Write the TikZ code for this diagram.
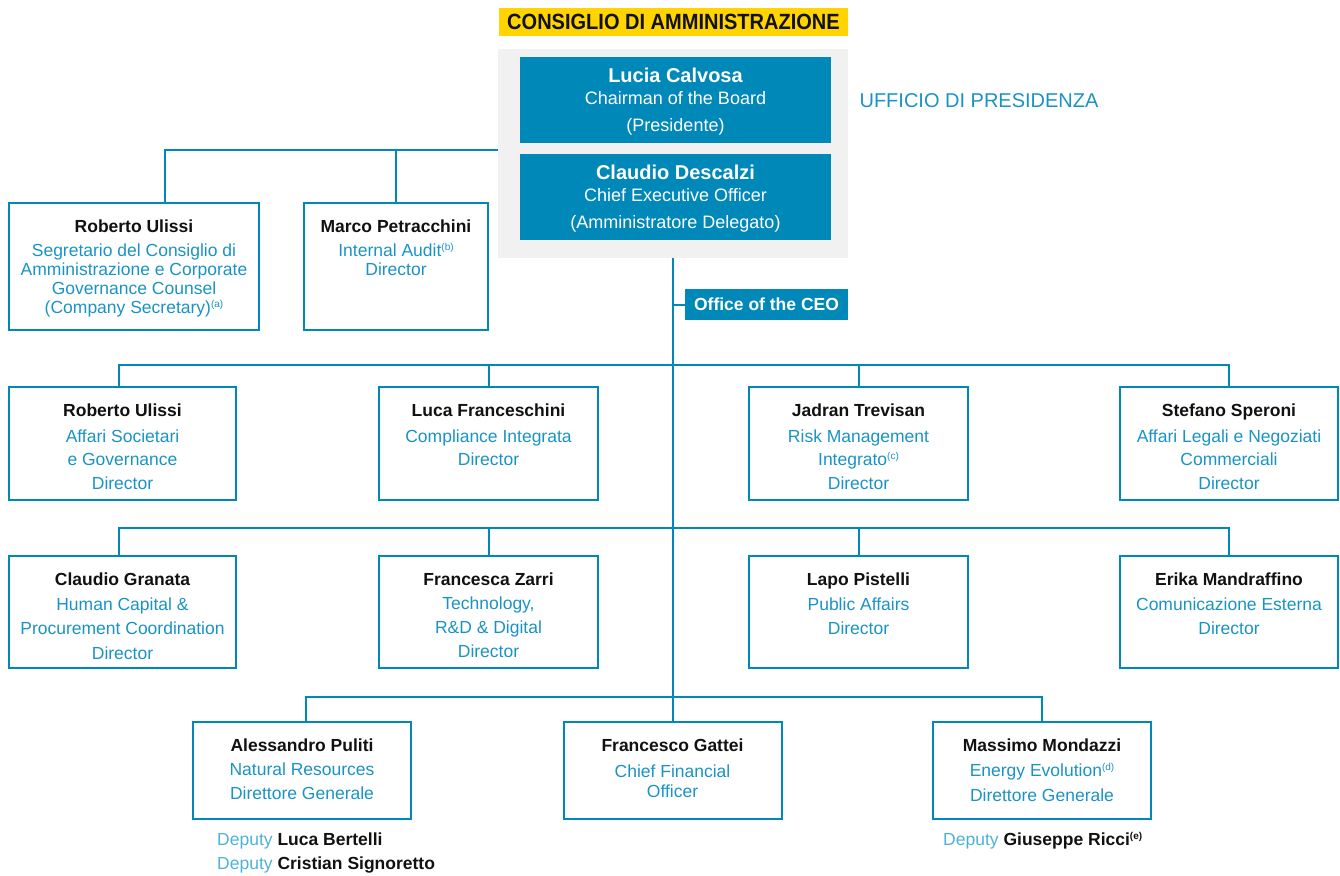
\documentclass[tikz,border=0pt]{standalone}
\usepackage{fontspec}
\usepackage{graphicx}
\setmainfont{Liberation Sans}
\newfontfamily\cond[FakeStretch=0.91]{Liberation Sans}
\definecolor{eniblue}{HTML}{0088B9}
\definecolor{txtblue}{HTML}{1A93C4}
\definecolor{deplight}{HTML}{4DB2DB}
\definecolor{eniyellow}{HTML}{FFD400}
\definecolor{greybg}{HTML}{F1F1F1}
\definecolor{namec}{HTML}{111111}
\newcommand\nm[1]{{\color{namec}\bfseries #1}}
\newcommand\fnote[1]{\raisebox{6pt}{\fontsize{10}{10}\selectfont(#1)}}
\tikzset{
  orgbox/.style={draw=eniblue, line width=2pt, inner sep=0pt, outer sep=0pt},
  fillbox/.style={fill=eniblue, inner sep=0pt, outer sep=0pt, minimum width=311, minimum height=86},
  conn/.style={draw=eniblue, line width=2pt},
  txt/.style={align=center, anchor=north, inner sep=0pt, text=txtblue, font=\fontsize{17.5}{23.5}\selectfont},
  wtxt/.style={align=center, anchor=north, inner sep=0pt, text=white, font=\fontsize{18}{22}\selectfont},
}
\begin{document}
\begin{tikzpicture}[x=1pt,y=-1pt]
\useasboundingbox (0,0) rectangle (1340,875);
% header
\node[fill=eniyellow, minimum width=349, minimum height=28, inner sep=0pt, font=\cond\bfseries\fontsize{22}{22}\selectfont, text=namec] (cda) at (673.5,22) {CONSIGLIO DI AMMINISTRAZIONE};
\node[fill=greybg, minimum width=350, minimum height=209, inner sep=0pt, outer sep=0pt] (pres) at (672.5,153.5) {};
\node[fillbox] (chair) at (675.5,100) {};
\node[wtxt] (chairt) at ([yshift=-11pt]chair.north) {{\fontsize{20}{22}\selectfont\bfseries Lucia Calvosa}\\Chairman of the Board\\[5pt](Presidente)};
\node[fillbox] (ceo) at (675.5,197) {};
\node[wtxt] (ceot) at ([yshift=-11pt]ceo.north) {{\fontsize{20}{22}\selectfont\bfseries Claudio Descalzi}\\Chief Executive Officer\\[5pt](Amministratore Delegato)};
\node[text=txtblue, inner sep=0pt, font=\fontsize{20}{20}\selectfont] (uff) at (979,101) {UFFICIO DI PRESIDENZA};

% top row
\node[orgbox, minimum width=250, minimum height=127] (ula) at (134,266.5) {};
\node[txt, font=\fontsize{17.5}{19}\selectfont] (ulat) at ([yshift=-17pt]ula.north) {\nm{Roberto Ulissi}\\[5pt]Segretario del Consiglio di\\Amministrazione e Corporate\\Governance Counsel\\(Company Secretary)\fnote{a}};
\node[orgbox, minimum width=184, minimum height=127] (mpe) at (396,266.5) {};
\node[txt, font=\fontsize{17.5}{19}\selectfont] (mpet) at ([yshift=-17pt]mpe.north) {\nm{Marco Petracchini}\\[5pt]Internal Audit\fnote{b}\\Director};
\coordinate (t1) at (165,150);
\draw[conn] (pres.west |- t1) -- (t1) -- (t1 |- ula.north);
\draw[conn] (mpe.north) -- (mpe.north |- t1);

% office
\node[fill=eniblue, minimum width=163, minimum height=31, inner sep=0pt, outer sep=0pt, text=white, font=\bfseries\fontsize{17.5}{17.5}\selectfont] (office) at (766.5,304.5) {Office of the CEO};

% row 1
\node[orgbox, minimum width=227, minimum height=113] (b11) at (122.5,443.5) {};
\node[orgbox, minimum width=219, minimum height=113] (b12) at (488.5,443.5) {};
\node[orgbox, minimum width=219, minimum height=113] (b13) at (858.5,443.5) {};
\node[orgbox, minimum width=218, minimum height=113] (b14) at (1229,443.5) {};
\node[txt] (b11t) at ([yshift=-17pt]b11.north) {\nm{Roberto Ulissi}\\[2pt]Affari Societari\\e Governance\\Director};
\node[txt] (b12t) at ([yshift=-17pt]b12.north) {\nm{Luca Franceschini}\\[2pt]Compliance Integrata\\Director};
\node[txt] (b13t) at ([yshift=-17pt]b13.north) {\nm{Jadran Trevisan}\\[2pt]Risk Management\\Integrato\fnote{c}\\Director};
\node[txt] (b14t) at ([yshift=-17pt]b14.north) {\nm{Stefano Speroni}\\[2pt]Affari Legali e Negoziati\\Commerciali\\Director};

% row 2
\node[orgbox, minimum width=227, minimum height=112] (b21) at (122.5,612) {};
\node[orgbox, minimum width=219, minimum height=112] (b22) at (488.5,612) {};
\node[orgbox, minimum width=219, minimum height=112] (b23) at (858.5,612) {};
\node[orgbox, minimum width=218, minimum height=112] (b24) at (1229,612) {};
\node[txt, font=\fontsize{17.5}{24.5}\selectfont] (b21t) at ([yshift=-17pt]b21.north) {\nm{Claudio Granata}\\Human Capital \&\\Procurement Coordination\\Director};
\node[txt, font=\fontsize{17.5}{24}\selectfont] (b22t) at ([yshift=-17pt]b22.north) {\nm{Francesca Zarri}\\Technology,\\R\&D \& Digital\\Director};
\node[txt, font=\fontsize{17.5}{24.5}\selectfont] (b23t) at ([yshift=-17pt]b23.north) {\nm{Lapo Pistelli}\\Public Affairs\\Director};
\node[txt, font=\fontsize{17.5}{24.5}\selectfont] (b24t) at ([yshift=-17pt]b24.north) {\nm{Erika Mandraffino}\\Comunicazione Esterna\\Director};

% row 3
\node[orgbox, minimum width=218, minimum height=97] (c1) at (302,770.5) {};
\node[orgbox, minimum width=218, minimum height=97] (c2) at (672.5,770.5) {};
\node[orgbox, minimum width=218, minimum height=97] (c3) at (1042,770.5) {};
\node[txt, font=\fontsize{17.5}{24}\selectfont] (c1t) at ([yshift=-17pt]c1.north) {\nm{Alessandro Puliti}\\Natural Resources\\Direttore Generale};
\node[txt, font=\fontsize{17.5}{20}\selectfont] (c2t) at ([yshift=-17pt]c2.north) {\nm{Francesco Gattei}\\[6pt]Chief Financial\\Officer};
\node[txt, font=\fontsize{17.5}{25}\selectfont] (c3t) at ([yshift=-17pt]c3.north) {\nm{Massimo Mondazzi}\\Energy Evolution\fnote{d}\\Direttore Generale};

% deputies
\node[anchor=base west, inner sep=0pt, font=\fontsize{17.5}{17.5}\selectfont, text=deplight] (dep1) at (217,845) {Deputy \nm{Luca Bertelli}};
\node[anchor=base west, inner sep=0pt, font=\fontsize{17.5}{17.5}\selectfont, text=deplight] (dep2) at (217,869) {Deputy \nm{Cristian Signoretto}};
\node[anchor=base west, inner sep=0pt, font=\fontsize{17.5}{17.5}\selectfont, text=deplight] (dep3) at (943,845) {Deputy \nm{Giuseppe Ricci\fnote{e}}};

% connectors
\draw[conn] (pres.south) -- (c2.north);
\draw[conn] (office.west) -- (office.west -| pres.south);
\coordinate (r1) at (672.5,365);
\coordinate (r2) at (672.5,528);
\coordinate (r3) at (672.5,697);
\draw[conn] ([xshift=-3.5pt]b11.north) |- (r1) -| (b14.north);
\draw[conn] (b12.north) -- (b12.north |- r1);
\draw[conn] (b13.north) -- (b13.north |- r1);
\draw[conn] ([xshift=-3.5pt]b21.north) |- (r2) -| (b24.north);
\draw[conn] (b22.north) -- (b22.north |- r2);
\draw[conn] (b23.north) -- (b23.north |- r2);
\draw[conn] ([xshift=4pt]c1.north) |- (r3) -| (c3.north);
\end{tikzpicture}
\end{document}
